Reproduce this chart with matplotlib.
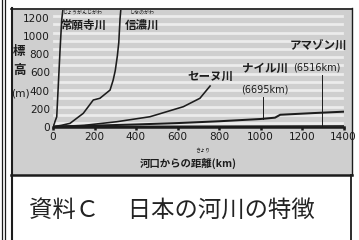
import matplotlib
matplotlib.use("Agg")
import matplotlib.pyplot as plt
from matplotlib.patches import Rectangle
from matplotlib.lines import Line2D
from matplotlib import font_manager
import numpy as np
import warnings
warnings.filterwarnings("ignore")

# ---- data ----
jogan_km = [0, 5, 10, 18, 26, 34, 42, 48]
jogan_m = [0, 25, 60, 110, 480, 850, 1180, 1300]
shinano_km = [0, 40, 82, 146, 194, 226, 275, 290, 300, 310, 317, 323, 327]
shinano_m = [0, 15, 37, 148, 295, 314, 405, 516, 620, 780, 930, 1190, 1300]
seine_km = [0, 150, 307, 467, 628, 708, 757]
seine_m = [0, 15, 55, 110, 221, 314, 450]
nile_km = [0, 200, 400, 600, 800, 1000, 1070, 1095, 1250, 1400]
nile_m = [0, 12, 25, 40, 60, 85, 100, 132, 150, 166]
amazon_km = [0, 700, 1400]
amazon_m = [0, 4, 8]
x_ticks = [0, 200, 400, 600, 800, 1000, 1200, 1400]
y_ticks = [0, 200, 400, 600, 800, 1000, 1200]

W, H = 359, 240
fig = plt.figure(figsize=(W / 100, H / 100), dpi=100)
fig.patch.set_facecolor("white")

def fx(x):
    return x / W

def fy(y):
    return 1 - y / H

installed = {f.name for f in font_manager.fontManager.ttflist}
CJK = ["Noto Sans CJK JP", "DejaVu Sans"]
NARROW = "Liberation Sans Narrow" if "Liberation Sans Narrow" in installed else "DejaVu Sans"
NUMFS = 9.5 if NARROW != "DejaVu Sans" else 7.6
INK = "#1c1c1c"

# gray picture panel and frame
fig.patches.append(Rectangle((fx(12), fy(175)), fx(352) - fx(12), fy(8) - fy(175),
                             transform=fig.transFigure, facecolor="#cfcfcf",
                             edgecolor="none", zorder=-2))
def fline(xs, ys, lw, color=INK):
    fig.lines.append(Line2D([fx(v) for v in xs], [fy(v) for v in ys],
                            transform=fig.transFigure, color=color, lw=lw, zorder=5))
fline([11.5, 11.5], [8, 240], 1.5)
fline([11, 352], [8.5, 8.5], 1.2)
fline([351.5, 351.5], [8, 175], 1.0)
fline([350.5, 350.5], [175, 240], 1.3)
fline([11, 352], [175, 175], 1.8)
fline([1.5, 1.5], [0, 240], 0.9)
fline([4.5, 4.5], [0, 240], 0.9)

# axes: x 0..1400 -> px 53..343.5 ; y 0..1290 -> px 126.7..10
ax = fig.add_axes([fx(53), fy(126.7), (343.5 - 53) / W, 116.7 / H])
ax.set_facecolor("none")
ax.set_xlim(0, 1400)
ax.set_ylim(0, 1290)
for s in ["left", "right", "top"]:
    ax.spines[s].set_visible(False)
ax.spines["bottom"].set_linewidth(1.8)
ax.spines["bottom"].set_color(INK)
ax.spines["bottom"].set_zorder(6)

for yy in np.arange(40, 1260, 91):
    ax.axhline(yy, xmin=0.005, xmax=0.995, color="#ececec", lw=2.0, zorder=0)

lw = 1.15
ax.plot(jogan_km, jogan_m, color=INK, lw=lw, zorder=3)
ax.plot(shinano_km, shinano_m, color=INK, lw=lw, zorder=3)
ax.plot(seine_km, seine_m, color=INK, lw=lw, zorder=3)
ax.plot(nile_km, nile_m, color=INK, lw=lw + 0.3, zorder=3)
ax.plot(amazon_km, amazon_m, color=INK, lw=lw, zorder=3)

ax.set_xticks(x_ticks)
ax.set_xticklabels([str(v) for v in x_ticks], family=NARROW, fontsize=NUMFS, color=INK)
ax.set_yticks(y_ticks)
ax.set_yticklabels([str(v) for v in y_ticks], family=NARROW, fontsize=NUMFS, color=INK)
ax.tick_params(axis="x", direction="out", length=2.5, width=1.8, color=INK, pad=1.5)
ax.tick_params(axis="y", length=0, pad=2.2)

# river labels
def t(x, y, s, fs, **kw):
    ax.text(x, y, s, fontsize=fs, family=CJK, color=INK, ha="center", va="center", **kw)
t(145, 1124, "常願寺川", 8.3, fontweight="bold")
t(145, 1268, "じょうがんじがわ", 3.6)
t(429, 1124, "信濃川", 8.3, fontweight="bold")
t(429, 1268, "しなのがわ", 3.6)
t(757, 560, "セーヌ川", 8.3, fontweight="bold")
t(1022, 649, "ナイル川", 8.3, fontweight="bold")
ax.text(1022, 406, "(6695km)", fontsize=NUMFS - 0.6, family=NARROW, color=INK, ha="center", va="center")
t(1277, 903, "アマゾン川", 8.3, fontweight="bold")
ax.text(1272, 649, "(6516km)", fontsize=NUMFS - 0.6, family=NARROW, color=INK, ha="center", va="center")
ax.plot([1012, 1012], [330, 88], color=INK, lw=0.7, zorder=3)
ax.plot([1295, 1295], [575, 0], color=INK, lw=0.7, zorder=3)

# axis titles
fig.text(fx(19), fy(51), "標", fontsize=9, family=CJK, fontweight="bold", ha="center", va="center", color=INK)
fig.text(fx(19), fy(70), "高", fontsize=9, family=CJK, fontweight="bold", ha="center", va="center", color=INK)
fig.text(fx(20), fy(94), "(m)", fontsize=NUMFS, family=NARROW, ha="center", va="center", color=INK)
fig.text(fx(188), fy(163), "河口からの距離(km)", fontsize=7.5, family=CJK, fontweight="bold",
         ha="center", va="center", color=INK)
fig.text(fx(203), fy(151), "きょり", fontsize=3.6, family=CJK, ha="center", va="center", color=INK)

# caption
fig.text(fx(29), fy(210), "資料Ｃ　 日本の河川の特徴", fontsize=16.8, family=CJK,
         ha="left", va="center", color="#222222")

fig.savefig("out.png", dpi=100, facecolor="white")
